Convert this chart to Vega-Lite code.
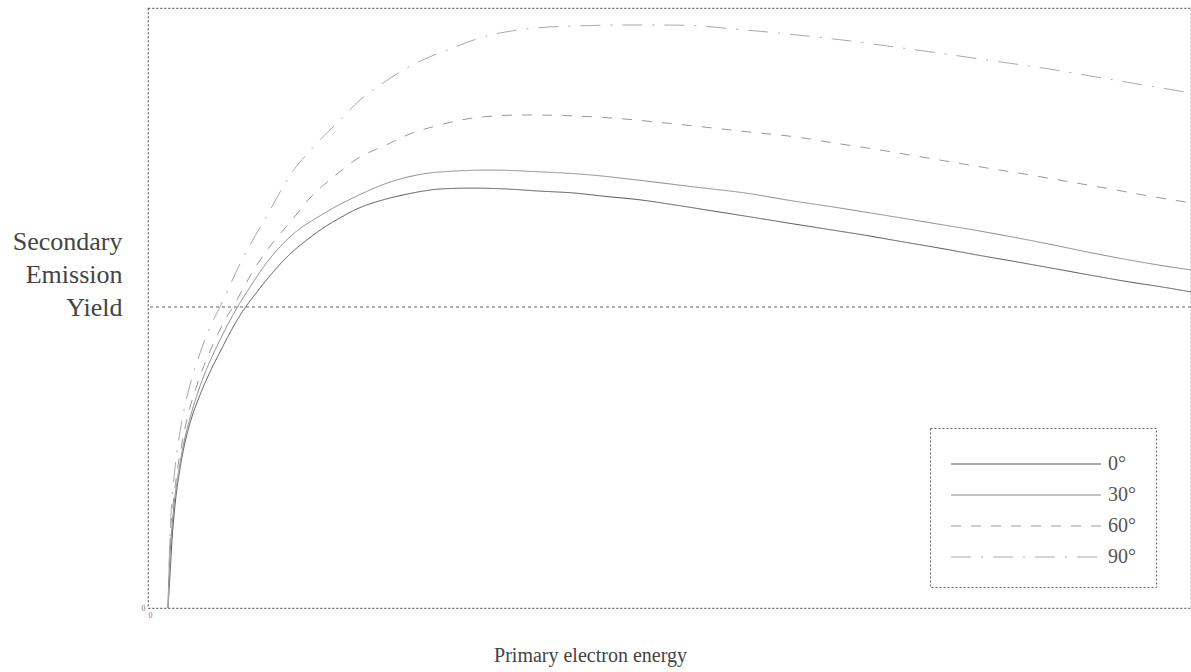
{
  "$schema": "https://vega.github.io/schema/vega-lite/v6.json",
  "width": 1043,
  "height": 600,
  "autosize": {"type": "none"},
  "padding": {"left": 148, "top": 8, "right": 0, "bottom": 64},
  "background": "white",
  "config": {
    "font": "Liberation Serif",
    "view": {"stroke": "#666", "strokeDash": [2, 2], "strokeWidth": 1.2},
    "legend": {"strokeDash": [2, 2]}
  },
  "layer": [
    {
      "data": {"values": [{"level": 1}]},
      "mark": {"type": "rule", "color": "#666", "strokeDash": [3, 3], "strokeWidth": 1.2},
      "encoding": {
        "y": {"field": "level", "type": "quantitative", "scale": {"domain": [0, 1.9934], "nice": false, "zero": true}}
      }
    },
    {
      "data": {"values": [
        {"angle": "0°", "energy": 20, "yield": 0},
        {"angle": "0°", "energy": 22, "yield": 0.110},
        {"angle": "0°", "energy": 24, "yield": 0.226},
        {"angle": "0°", "energy": 27, "yield": 0.342},
        {"angle": "0°", "energy": 31, "yield": 0.442},
        {"angle": "0°", "energy": 36, "yield": 0.535},
        {"angle": "0°", "energy": 43, "yield": 0.625},
        {"angle": "0°", "energy": 52, "yield": 0.708},
        {"angle": "0°", "energy": 62, "yield": 0.784},
        {"angle": "0°", "energy": 73, "yield": 0.857},
        {"angle": "0°", "energy": 84, "yield": 0.927},
        {"angle": "0°", "energy": 97, "yield": 0.997},
        {"angle": "0°", "energy": 109, "yield": 1.050},
        {"angle": "0°", "energy": 125, "yield": 1.116},
        {"angle": "0°", "energy": 142, "yield": 1.176},
        {"angle": "0°", "energy": 159, "yield": 1.223},
        {"angle": "0°", "energy": 175, "yield": 1.262},
        {"angle": "0°", "energy": 192, "yield": 1.296},
        {"angle": "0°", "energy": 209, "yield": 1.326},
        {"angle": "0°", "energy": 225, "yield": 1.346},
        {"angle": "0°", "energy": 242, "yield": 1.362},
        {"angle": "0°", "energy": 259, "yield": 1.375},
        {"angle": "0°", "energy": 275, "yield": 1.385},
        {"angle": "0°", "energy": 292, "yield": 1.392},
        {"angle": "0°", "energy": 325, "yield": 1.395},
        {"angle": "0°", "energy": 359, "yield": 1.392},
        {"angle": "0°", "energy": 392, "yield": 1.385},
        {"angle": "0°", "energy": 425, "yield": 1.379},
        {"angle": "0°", "energy": 459, "yield": 1.367},
        {"angle": "0°", "energy": 492, "yield": 1.356},
        {"angle": "0°", "energy": 527, "yield": 1.339},
        {"angle": "0°", "energy": 565, "yield": 1.319},
        {"angle": "0°", "energy": 603, "yield": 1.299},
        {"angle": "0°", "energy": 640, "yield": 1.279},
        {"angle": "0°", "energy": 678, "yield": 1.259},
        {"angle": "0°", "energy": 716, "yield": 1.239},
        {"angle": "0°", "energy": 754, "yield": 1.217},
        {"angle": "0°", "energy": 791, "yield": 1.196},
        {"angle": "0°", "energy": 829, "yield": 1.173},
        {"angle": "0°", "energy": 867, "yield": 1.151},
        {"angle": "0°", "energy": 904, "yield": 1.129},
        {"angle": "0°", "energy": 942, "yield": 1.106},
        {"angle": "0°", "energy": 980, "yield": 1.084},
        {"angle": "0°", "energy": 1017, "yield": 1.065},
        {"angle": "0°", "energy": 1043, "yield": 1.050},

        {"angle": "30°", "energy": 20, "yield": 0},
        {"angle": "30°", "energy": 21, "yield": 0.110},
        {"angle": "30°", "energy": 23, "yield": 0.226},
        {"angle": "30°", "energy": 26, "yield": 0.342},
        {"angle": "30°", "energy": 30, "yield": 0.442},
        {"angle": "30°", "energy": 35, "yield": 0.535},
        {"angle": "30°", "energy": 42, "yield": 0.631},
        {"angle": "30°", "energy": 50, "yield": 0.718},
        {"angle": "30°", "energy": 59, "yield": 0.797},
        {"angle": "30°", "energy": 69, "yield": 0.870},
        {"angle": "30°", "energy": 79, "yield": 0.937},
        {"angle": "30°", "energy": 89, "yield": 0.997},
        {"angle": "30°", "energy": 102, "yield": 1.066},
        {"angle": "30°", "energy": 117, "yield": 1.140},
        {"angle": "30°", "energy": 142, "yield": 1.233},
        {"angle": "30°", "energy": 175, "yield": 1.309},
        {"angle": "30°", "energy": 209, "yield": 1.369},
        {"angle": "30°", "energy": 242, "yield": 1.415},
        {"angle": "30°", "energy": 275, "yield": 1.442},
        {"angle": "30°", "energy": 309, "yield": 1.452},
        {"angle": "30°", "energy": 342, "yield": 1.455},
        {"angle": "30°", "energy": 392, "yield": 1.449},
        {"angle": "30°", "energy": 442, "yield": 1.439},
        {"angle": "30°", "energy": 489, "yield": 1.422},
        {"angle": "30°", "energy": 546, "yield": 1.399},
        {"angle": "30°", "energy": 603, "yield": 1.376},
        {"angle": "30°", "energy": 640, "yield": 1.355},
        {"angle": "30°", "energy": 686, "yield": 1.332},
        {"angle": "30°", "energy": 716, "yield": 1.316},
        {"angle": "30°", "energy": 753, "yield": 1.296},
        {"angle": "30°", "energy": 791, "yield": 1.275},
        {"angle": "30°", "energy": 829, "yield": 1.254},
        {"angle": "30°", "energy": 867, "yield": 1.231},
        {"angle": "30°", "energy": 904, "yield": 1.207},
        {"angle": "30°", "energy": 942, "yield": 1.181},
        {"angle": "30°", "energy": 980, "yield": 1.157},
        {"angle": "30°", "energy": 1017, "yield": 1.136},
        {"angle": "30°", "energy": 1043, "yield": 1.123},

        {"angle": "60°", "energy": 20, "yield": 0},
        {"angle": "60°", "energy": 21, "yield": 0.110},
        {"angle": "60°", "energy": 22, "yield": 0.226},
        {"angle": "60°", "energy": 25, "yield": 0.342},
        {"angle": "60°", "energy": 29, "yield": 0.452},
        {"angle": "60°", "energy": 34, "yield": 0.548},
        {"angle": "60°", "energy": 40, "yield": 0.641},
        {"angle": "60°", "energy": 48, "yield": 0.731},
        {"angle": "60°", "energy": 57, "yield": 0.814},
        {"angle": "60°", "energy": 67, "yield": 0.890},
        {"angle": "60°", "energy": 78, "yield": 0.963},
        {"angle": "60°", "energy": 85, "yield": 1.000},
        {"angle": "60°", "energy": 97, "yield": 1.073},
        {"angle": "60°", "energy": 109, "yield": 1.140},
        {"angle": "60°", "energy": 127, "yield": 1.223},
        {"angle": "60°", "energy": 144, "yield": 1.289},
        {"angle": "60°", "energy": 160, "yield": 1.355},
        {"angle": "60°", "energy": 177, "yield": 1.409},
        {"angle": "60°", "energy": 194, "yield": 1.455},
        {"angle": "60°", "energy": 207, "yield": 1.488},
        {"angle": "60°", "energy": 222, "yield": 1.515},
        {"angle": "60°", "energy": 234, "yield": 1.532},
        {"angle": "60°", "energy": 262, "yield": 1.575},
        {"angle": "60°", "energy": 292, "yield": 1.605},
        {"angle": "60°", "energy": 325, "yield": 1.628},
        {"angle": "60°", "energy": 375, "yield": 1.638},
        {"angle": "60°", "energy": 425, "yield": 1.635},
        {"angle": "60°", "energy": 475, "yield": 1.625},
        {"angle": "60°", "energy": 527, "yield": 1.608},
        {"angle": "60°", "energy": 603, "yield": 1.581},
        {"angle": "60°", "energy": 648, "yield": 1.565},
        {"angle": "60°", "energy": 686, "yield": 1.545},
        {"angle": "60°", "energy": 720, "yield": 1.528},
        {"angle": "60°", "energy": 762, "yield": 1.505},
        {"angle": "60°", "energy": 810, "yield": 1.478},
        {"angle": "60°", "energy": 846, "yield": 1.458},
        {"angle": "60°", "energy": 876, "yield": 1.442},
        {"angle": "60°", "energy": 923, "yield": 1.415},
        {"angle": "60°", "energy": 961, "yield": 1.393},
        {"angle": "60°", "energy": 1004, "yield": 1.367},
        {"angle": "60°", "energy": 1043, "yield": 1.346},

        {"angle": "90°", "energy": 20, "yield": 0},
        {"angle": "90°", "energy": 21, "yield": 0.126},
        {"angle": "90°", "energy": 22, "yield": 0.243},
        {"angle": "90°", "energy": 24, "yield": 0.359},
        {"angle": "90°", "energy": 27, "yield": 0.465},
        {"angle": "90°", "energy": 31, "yield": 0.565},
        {"angle": "90°", "energy": 36, "yield": 0.658},
        {"angle": "90°", "energy": 42, "yield": 0.741},
        {"angle": "90°", "energy": 49, "yield": 0.817},
        {"angle": "90°", "energy": 56, "yield": 0.884},
        {"angle": "90°", "energy": 64, "yield": 0.947},
        {"angle": "90°", "energy": 72, "yield": 1.000},
        {"angle": "90°", "energy": 82, "yield": 1.073},
        {"angle": "90°", "energy": 95, "yield": 1.163},
        {"angle": "90°", "energy": 107, "yield": 1.236},
        {"angle": "90°", "energy": 117, "yield": 1.292},
        {"angle": "90°", "energy": 135, "yield": 1.399},
        {"angle": "90°", "energy": 145, "yield": 1.452},
        {"angle": "90°", "energy": 159, "yield": 1.508},
        {"angle": "90°", "energy": 169, "yield": 1.545},
        {"angle": "90°", "energy": 192, "yield": 1.621},
        {"angle": "90°", "energy": 212, "yield": 1.688},
        {"angle": "90°", "energy": 235, "yield": 1.744},
        {"angle": "90°", "energy": 252, "yield": 1.781},
        {"angle": "90°", "energy": 275, "yield": 1.821},
        {"angle": "90°", "energy": 304, "yield": 1.860},
        {"angle": "90°", "energy": 335, "yield": 1.897},
        {"angle": "90°", "energy": 369, "yield": 1.920},
        {"angle": "90°", "energy": 399, "yield": 1.930},
        {"angle": "90°", "energy": 432, "yield": 1.934},
        {"angle": "90°", "energy": 472, "yield": 1.937},
        {"angle": "90°", "energy": 512, "yield": 1.937},
        {"angle": "90°", "energy": 546, "yield": 1.935},
        {"angle": "90°", "energy": 578, "yield": 1.926},
        {"angle": "90°", "energy": 646, "yield": 1.905},
        {"angle": "90°", "energy": 697, "yield": 1.886},
        {"angle": "90°", "energy": 742, "yield": 1.866},
        {"angle": "90°", "energy": 801, "yield": 1.839},
        {"angle": "90°", "energy": 842, "yield": 1.819},
        {"angle": "90°", "energy": 887, "yield": 1.798},
        {"angle": "90°", "energy": 914, "yield": 1.784},
        {"angle": "90°", "energy": 938, "yield": 1.770},
        {"angle": "90°", "energy": 968, "yield": 1.753},
        {"angle": "90°", "energy": 1004, "yield": 1.733},
        {"angle": "90°", "energy": 1034, "yield": 1.716},
        {"angle": "90°", "energy": 1043, "yield": 1.711}
      ]},
      "mark": {"type": "line", "interpolate": "monotone", "strokeWidth": 1},
      "encoding": {
        "x": {
          "field": "energy", "type": "quantitative",
          "scale": {"domain": [0, 1043], "nice": false, "zero": true},
          "axis": {
            "values": [0], "labelExpr": "'0'", "domain": false, "ticks": false, "grid": false,
            "labelFontSize": 8, "labelColor": "#777", "labelPadding": 3,
            "title": "Primary electron energy",
            "titleFont": "Liberation Serif", "titleFontSize": 20, "titleFontWeight": "normal",
            "titleColor": "#444", "titleBaseline": "alphabetic", "titleAnchor": "start",
            "titleAlign": "center", "titleX": 442, "titleY": 53
          }
        },
        "y": {
          "field": "yield", "type": "quantitative",
          "scale": {"domain": [0, 1.9934], "nice": false, "zero": true},
          "axis": {
            "values": [0], "labelExpr": "'0'", "domain": false, "ticks": false, "grid": false,
            "labelFontSize": 8, "labelColor": "#777", "labelPadding": 3,
            "title": ["Secondary", "Emission", "Yield"],
            "titleFont": "Liberation Serif", "titleFontSize": 26, "titleFontWeight": "normal",
            "titleColor": "#444", "titleAngle": 0, "titleAlign": "right",
            "titleBaseline": "alphabetic", "titleLineHeight": 33,
            "titleX": -26, "titleY": 241
          }
        },
        "color": {
          "field": "angle", "type": "nominal",
          "scale": {"domain": ["0°", "30°", "60°", "90°"], "range": ["#555555", "#888888", "#999999", "#aaaaaa"]},
          "legend": {
            "orient": "none", "legendX": 782, "legendY": 420, "title": null,
            "symbolType": "M-1,0H9", "symbolSize": 900, "symbolStrokeWidth": 1.2,
            "symbolFillColor": "transparent",
            "labelFont": "Liberation Serif", "labelFontSize": 20, "labelColor": "#555",
            "labelOffset": 126, "padding": 20, "rowPadding": 5,
            "strokeColor": "#666", "fillColor": "white"
          }
        },
        "strokeDash": {
          "field": "angle", "type": "nominal",
          "scale": {"domain": ["0°", "30°", "60°", "90°"], "range": [[1, 0], [1, 0], [10, 10], [20, 10, 2, 10]]}
        }
      }
    }
  ]
}
